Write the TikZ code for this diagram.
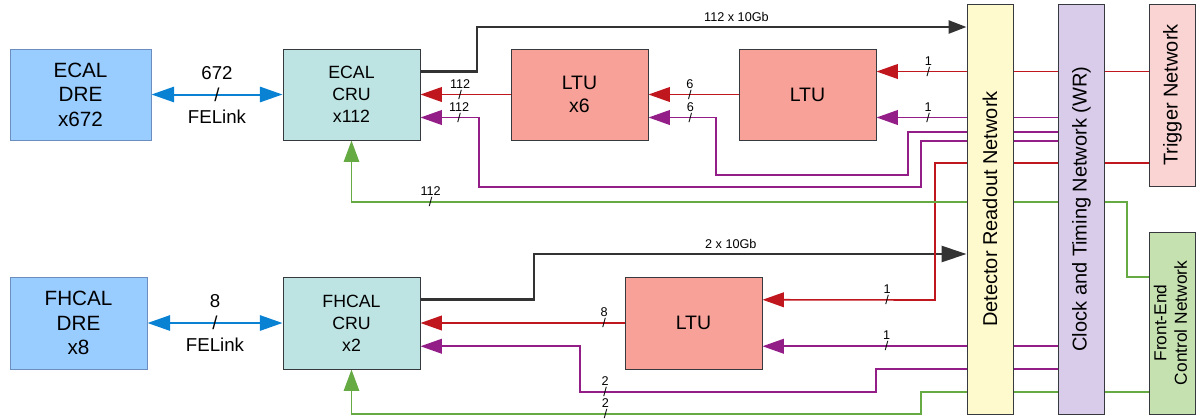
\documentclass[tikz,border=0pt]{standalone}
\usepackage{fontspec}
\setmainfont{Liberation Sans}
\usetikzlibrary{arrows.meta,calc}
\pgfdeclarelayer{bg}
\pgfsetlayers{bg,main}
\definecolor{drefill}{HTML}{99CCFF}
\definecolor{dredraw}{HTML}{6C8EBF}
\definecolor{crufill}{HTML}{BDE3E3}
\definecolor{ltufill}{HTML}{F7A199}
\definecolor{drnfill}{HTML}{FFFACD}
\definecolor{ctnfill}{HTML}{D8CCEA}
\definecolor{trgfill}{HTML}{FAD4D2}
\definecolor{fecfill}{HTML}{C5E1B0}
\definecolor{boxdraw}{HTML}{36393D}
\definecolor{cred}{HTML}{C0161E}
\definecolor{cpur}{HTML}{931E87}
\definecolor{cgrn}{HTML}{66AA44}
\definecolor{cblu}{HTML}{0A82D4}
\definecolor{cblk}{HTML}{333333}
\begin{document}
\begin{tikzpicture}[x=0.75pt,y=-0.75pt,
  box/.style={draw=boxdraw, line width=0.75pt, inner sep=0pt, align=center},
  dre/.style={box, draw=dredraw, fill=drefill, minimum width=105.75pt, minimum height=68.25pt, font=\fontsize{15.5}{18.4}\selectfont},
  cru/.style={box, fill=crufill, minimum width=102.75pt, minimum height=68.25pt, font=\fontsize{13.3}{16.5}\selectfont},
  ltub/.style={box, fill=ltufill, minimum width=102.75pt, minimum height=68.25pt, font=\fontsize{14.6}{16.8}\selectfont},
  net/.style={box, minimum width=34.5pt, minimum height=307.5pt, font=\fontsize{15}{18}\selectfont},
  sl/.style={font=\fontsize{9.5}{10}\selectfont, inner sep=0pt},
  num/.style={sl, yshift=8pt},
  slab/.style={font=\fontsize{9.5}{11}\selectfont, above},
  redl/.style={draw=cred, line width=1.2pt, -{Triangle[length=16pt,width=11pt]}},
  purl/.style={draw=cpur, line width=1.2pt, -{Triangle[length=16pt,width=11pt]}},
  grnl/.style={draw=cgrn, line width=1.2pt, -{Triangle[length=16pt,width=11.5pt]}},
  blul/.style={draw=cblu, line width=1.5pt, {Triangle[length=17pt,width=11.5pt]}-{Triangle[length=17pt,width=11.5pt]}},
  blk/.style={draw=cblk, line width=2pt},
  felab/.style={align=center, font=\fontsize{14}{16.5}\selectfont, inner sep=0pt}
]
\useasboundingbox (0,0) rectangle (1202,419);

% nodes
\node[dre] (edre) at (80.5,94.5) {ECAL\\DRE\\x672};
\node[cru] (ecru) at (351.5,94.5) {ECAL\\CRU\\x112};
\node[ltub] (ltu6) at (579.5,94.5) {LTU\\x6};
\node[ltub] (ltu) at (807.5,94.5) {LTU};
\node[dre, minimum width=102.75pt, minimum height=69pt] (fdre) at (78.5,323) {FHCAL\\DRE\\x8};
\node[cru, minimum height=69pt] (fcru) at (351.5,323) {FHCAL\\CRU\\x2};
\node[ltub, minimum height=69pt] (fltu) at (693.5,323) {LTU};
\node[net, fill=drnfill] (drn) at (990,209) {\rotatebox{90}{Detector Readout Network}};
\node[net, fill=ctnfill] (ctn) at (1081.5,209) {\rotatebox{90}{Clock and Timing Network (WR)}};
\node[net, fill=trgfill, minimum height=136.5pt] (trg) at (1172.5,95) {\rotatebox{90}{Trigger Network}};
\node[net, fill=fecfill, minimum height=136.5pt, font=\fontsize{13}{15.5}\selectfont] (fec) at (1172.5,323)
  {\rotatebox{90}{\begin{tabular}{@{}c@{}}Front-End\\Control Network\end{tabular}}};

\coordinate (ecruA) at ($(ecru.north east)!.25!(ecru.south east)$);
\coordinate (ecruC) at ($(ecru.north east)!.75!(ecru.south east)$);
\coordinate (ltu6C) at ($(ltu6.north east)!.75!(ltu6.south east)$);
\coordinate (ltuA) at ($(ltu.north east)!.25!(ltu.south east)$);
\coordinate (ltuC) at ($(ltu.north east)!.75!(ltu.south east)$);
\coordinate (fcruA) at ($(fcru.north east)!.25!(fcru.south east)$);
\coordinate (fcruC) at ($(fcru.north east)!.75!(fcru.south east)$);
\coordinate (fltuA) at ($(fltu.north east)!.25!(fltu.south east)$);
\coordinate (fltuC) at ($(fltu.north east)!.75!(fltu.south east)$);

\begin{pgfonlayer}{bg}
% front-end links
\draw[blul] (edre) -- node[felab] {672\\/\\FELink} (ecru);
\draw[blul] (fdre) -- node[felab] {8\\/\\FELink} (fcru);

% readout links
\draw[blk, -{Triangle[length=13.5pt,width=9.75pt]}] (ecruA) -| (477,27)
  -- node[slab, pos=.53] {112 x 10Gb} (drn.west |- 477,27);
\draw[blk, -{Triangle[length=18.75pt,width=12pt]}] (fcruA) -| (534,254)
  -- node[slab, pos=.455] {2 x 10Gb} (drn.west |- 534,254);

% trigger (red)
\draw[redl] (ltu6) -- node[pos=.56, sl] {/} node[pos=.56, num] {112} (ecru);
\draw[redl] (ltu) -- node[pos=.54, sl] {/} node[pos=.54, num] {6} (ltu6);
\draw[redl] (trg.west |- ltuA) -- node[pos=.81, sl] {/} node[pos=.81, num] {1} (ltuA);
\draw[redl] (trg.west |- 0,163) -| (935,300)
  -- node[pos=.277, sl] {/} node[pos=.277, num] {1} (fltuA);
\draw[redl] (fltu) -- node[pos=.10, sl] {/} node[pos=.10, num] {8} (fcru);

% clock (purple)
\draw[purl] (ctn.west |- ltuC) -- node[pos=.716, sl] {/} node[pos=.716, num] {1} (ltuC);
\draw[purl] (ctn.west |- 0,132) -| (908,175) -- (716,175)
  |- node[pos=.69, sl] {/} node[pos=.69, num] {6} (ltu6C);
\draw[purl] (ctn.west |- 0,141) -| (921,187) -- (479,187)
  |- node[pos=.67, sl] {/} node[pos=.67, num] {112} (ecruC);
\draw[purl] (ctn.west |- fltuC) -- node[pos=.58, sl] {/} node[pos=.58, num] {1} (fltuC);
\draw[purl] (ctn.west |- 0,369) -| (876,392)
  -- node[pos=.915, sl] {/} node[pos=.915, num] {2} (580,392) |- (fcruC);

% front-end control (green)
\draw[grnl] (fec.west |- 0,277) -| (1127,202)
  -| node[pos=.449, sl] {/} node[pos=.449, num] {112} (ecru.south);
\draw[grnl] (fec.west |- 0,392) -| (921,414)
  -| node[pos=.277, sl] {/} node[pos=.277, num] {2} (fcru.south);
\end{pgfonlayer}
\end{tikzpicture}
\end{document}
